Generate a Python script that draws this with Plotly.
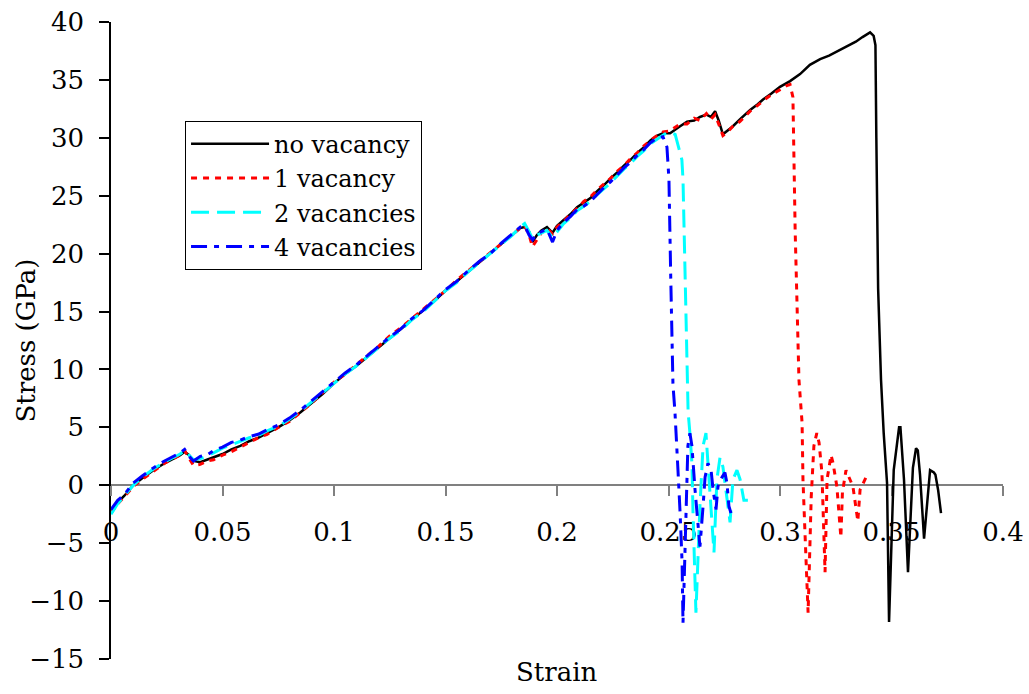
import plotly.graph_objects as go

# ---------------- data ----------------
strain_common = [0.000, 0.003, 0.006, 0.010, 0.014, 0.019, 0.024, 0.028, 0.031, 0.033,
                 0.035, 0.037, 0.040, 0.043, 0.046, 0.050, 0.054, 0.058, 0.062, 0.066,
                 0.070, 0.075, 0.080, 0.085, 0.090, 0.095, 0.100, 0.105, 0.110, 0.115,
                 0.120, 0.125, 0.130, 0.135, 0.140, 0.145, 0.150, 0.155, 0.160, 0.165,
                 0.170, 0.175, 0.180, 0.1835, 0.1855, 0.1875, 0.189, 0.191, 0.193, 0.1955,
                 0.198, 0.200, 0.203, 0.206, 0.209, 0.212, 0.215, 0.218, 0.221, 0.224,
                 0.227, 0.230, 0.233, 0.236, 0.239, 0.242, 0.245]

stress_common_novac = [-2.3, -1.5, -0.9, 0.0, 0.6, 1.3, 1.9, 2.3, 2.6, 2.9,
                       2.6, 2.1, 2.0, 2.2, 2.4, 2.7, 3.1, 3.4, 3.8, 4.1,
                       4.5, 5.0, 5.6, 6.3, 7.1, 7.9, 8.8, 9.6, 10.3, 11.1,
                       11.9, 12.7, 13.5, 14.3, 15.1, 15.9, 16.8, 17.6, 18.4, 19.2,
                       20.0, 20.8, 21.6, 22.2, 22.3, 21.9, 21.0, 21.6, 22.0, 22.3,
                       21.8, 22.4, 22.9, 23.4, 24.0, 24.4, 24.8, 25.4, 25.9, 26.5,
                       27.0, 27.6, 28.1, 28.7, 29.2, 29.8, 30.2]
stress_common_1vac = [-2.4, -1.6, -1.0, -0.1, 0.5, 1.2, 1.9, 2.3, 2.6, 3.0,
                      2.3, 1.7, 1.8, 2.1, 2.2, 2.6, 2.9, 3.3, 3.7, 4.1,
                      4.4, 5.0, 5.5, 6.3, 7.1, 8.0, 8.9, 9.6, 10.4, 11.2,
                      12.0, 12.9, 13.6, 14.4, 15.2, 16.0, 16.8, 17.7, 18.5, 19.3,
                      20.1, 20.9, 21.7, 22.2, 22.4, 21.6, 20.6, 21.2, 21.8, 22.2,
                      21.7, 22.3, 22.8, 23.4, 23.9, 24.5, 24.9, 25.5, 26.0, 26.5,
                      27.1, 27.6, 28.2, 28.7, 29.3, 29.8, 30.2]
stress_common_2vac = [-2.5, -1.6, -0.9, 0.0, 0.7, 1.4, 2.0, 2.4, 2.7, 3.0,
                      2.6, 2.2, 2.3, 2.5, 2.8, 3.2, 3.5, 3.8, 4.1, 4.3,
                      4.7, 5.1, 5.7, 6.4, 7.2, 8.0, 8.8, 9.6, 10.3, 11.1,
                      11.9, 12.7, 13.4, 14.3, 15.0, 15.9, 16.8, 17.5, 18.4, 19.2,
                      20.0, 20.8, 21.6, 22.3, 22.6, 21.9, 21.3, 21.6, 21.8, 22.0,
                      21.4, 21.9, 22.6, 23.1, 23.7, 24.1, 24.5, 25.1, 25.6, 26.1,
                      26.7, 27.3, 27.8, 28.4, 28.9, 29.5, 29.9]
stress_common_4vac = [-2.1, -1.3, -0.8, 0.2, 0.8, 1.5, 2.1, 2.5, 2.8, 3.1,
                      2.5, 2.1, 2.5, 2.6, 3.0, 3.3, 3.7, 3.9, 4.2, 4.4,
                      4.8, 5.2, 5.8, 6.5, 7.3, 8.1, 8.9, 9.7, 10.4, 11.2,
                      12.0, 12.8, 13.5, 14.4, 15.1, 16.0, 16.9, 17.6, 18.5, 19.3,
                      20.0, 20.9, 21.7, 22.3, 22.4, 21.6, 21.2, 21.7, 21.9, 22.1,
                      21.0, 22.0, 22.7, 23.2, 23.8, 24.1, 24.5, 25.1, 25.7, 26.2,
                      26.8, 27.4, 27.9, 28.5, 29.0, 29.6, 30.0]

strain_tail_novac = [0.2475, 0.2507, 0.2552, 0.2583, 0.2615, 0.2641, 0.2670, 0.2690, 0.2709,
                     0.2725, 0.2744, 0.2765, 0.2789, 0.2820, 0.2866, 0.2900, 0.2924, 0.2960,
                     0.3000, 0.3045, 0.3090, 0.3134, 0.3180, 0.3220, 0.3260, 0.3300, 0.3340,
                     0.3370, 0.3404, 0.3420, 0.3428, 0.3432, 0.3440, 0.3453, 0.3465, 0.3480,
                     0.3489, 0.3510, 0.3534, 0.3540, 0.3556, 0.3574, 0.3596, 0.3610, 0.3618,
                     0.3628, 0.3646, 0.3673, 0.3690, 0.3697, 0.3709, 0.3722]
stress_tail_novac = [30.4, 30.4, 31.0, 31.4, 31.5, 31.8, 32.0, 31.8, 32.3,
                     31.5, 30.3, 30.6, 31.0, 31.6, 32.4, 32.9, 33.3, 33.8,
                     34.4, 34.9, 35.5, 36.3, 36.8, 37.1, 37.5, 37.9, 38.3,
                     38.7, 39.1, 38.8, 38.0, 30.0, 17.0, 9.1, 4.5, 0.2,
                     -11.8, 1.3, 5.0, 5.0, 0.5, -7.5, 1.5, 3.2, 3.0,
                     0.9, -4.6, 1.3, 1.1, 0.9, -0.4, -2.4]

strain_tail_1vac = [0.2475, 0.2507, 0.2552, 0.2583, 0.2615, 0.2641, 0.2670, 0.2690, 0.2709,
                    0.2725, 0.2744, 0.2765, 0.2789, 0.2820, 0.2866, 0.2900, 0.2924, 0.2960,
                    0.3000, 0.3030, 0.3045, 0.3058, 0.3068, 0.3078, 0.3085, 0.3099, 0.3103,
                    0.3112, 0.3126, 0.3140, 0.3152, 0.3165, 0.3175, 0.3188, 0.3202, 0.3211,
                    0.3229, 0.3238, 0.3255, 0.3273, 0.3280, 0.3296, 0.3314, 0.3327, 0.3349,
                    0.3359, 0.3386]
stress_tail_1vac = [30.5, 30.6, 31.2, 31.2, 31.7, 31.5, 32.1, 31.6, 32.0,
                    31.2, 30.2, 30.5, 31.0, 31.4, 32.3, 32.8, 33.2, 33.7,
                    34.2, 34.5, 34.6, 33.5, 22.0, 14.0, 9.1, 5.4, 0.5,
                    -4.1, -11.0, -1.0, 3.4, 4.5, 3.7, 1.1, -7.5, 0.5,
                    2.6, 1.9, -0.1, -4.5, -0.6, 1.3, 0.5, -0.1, -3.1,
                    -0.4, 0.7]

strain_tail_2vac = [0.2475, 0.2498, 0.2530, 0.2560, 0.2565, 0.2575, 0.2583, 0.2588, 0.2596,
                    0.2605, 0.2610, 0.2619, 0.2623, 0.2632, 0.2641, 0.2655, 0.2668, 0.2677,
                    0.2695, 0.2704, 0.2717, 0.2731, 0.2744, 0.2762, 0.2776, 0.2789, 0.2807,
                    0.2821, 0.2838, 0.2856]
stress_tail_2vac = [30.2, 30.5, 30.3, 28.1, 26.4, 17.0, 9.1, 6.3, 4.5,
                    1.9, -2.4, -8.2, -11.0, -6.4, -1.8, 3.4, 4.5, 1.9,
                    -3.8, -5.8, 0.5, 2.4, 1.6, -1.0, -3.2, 0.5, 1.3,
                    0.5, -1.3, -1.3]

strain_tail_4vac = [0.2475, 0.2493, 0.2498, 0.2502, 0.2510, 0.2520, 0.2529, 0.2538, 0.2543,
                    0.2552, 0.2561, 0.2565, 0.2574, 0.2583, 0.2587, 0.2596, 0.2605, 0.2619,
                    0.2632, 0.2641, 0.2655, 0.2664, 0.2677, 0.2691, 0.2700, 0.2713, 0.2722,
                    0.2740, 0.2753, 0.2762, 0.2771, 0.2780]
stress_tail_4vac = [30.1, 29.2, 27.5, 26.4, 18.0, 8.7, 6.3, 3.4, 1.1,
                    -2.4, -6.7, -11.9, -5.8, 0.5, 3.4, 4.5, 3.4, -0.4,
                    -3.2, -5.3, -1.8, 0.7, 1.9, 1.3, -0.4, -2.1, -0.1,
                    0.7, 1.1, 0.2, -1.8, -2.4]

series_names = ["no vacancy", "1 vacancy", "2 vacancies", "4 vacancies"]
x_tick_vals = [0, 0.05, 0.1, 0.15, 0.2, 0.25, 0.3, 0.35, 0.4]
x_tick_text = ["0", "0.05", "0.1", "0.15", "0.2", "0.25", "0.3", "0.35", "0.4"]
y_tick_vals = [-15, -10, -5, 0, 5, 10, 15, 20, 25, 30, 35, 40]

# ---------------- figure ----------------
FONT = "DejaVu Serif"

series = [
    (series_names[0], strain_common + strain_tail_novac, stress_common_novac + stress_tail_novac,
     dict(color="#000000", width=2.5, dash="solid")),
    (series_names[1], strain_common + strain_tail_1vac, stress_common_1vac + stress_tail_1vac,
     dict(color="#FF0000", width=3, dash="6px,6px")),
    (series_names[2], strain_common + strain_tail_2vac, stress_common_2vac + stress_tail_2vac,
     dict(color="#00FFFF", width=3, dash="18px,8px")),
    (series_names[3], strain_common + strain_tail_4vac, stress_common_4vac + stress_tail_4vac,
     dict(color="#0000FF", width=3, dash="16px,7px,5px,7px")),
]

fig = go.Figure()
for name, xs, ys, line in series:
    fig.add_trace(go.Scatter(x=xs, y=ys, mode="lines", name=name, line=line))

fig.update_layout(
    width=1029, height=694,
    margin=dict(l=111, r=26, t=22, b=35, pad=0),
    paper_bgcolor="white", plot_bgcolor="white",
    font=dict(family=FONT, size=26, color="black"),
    showlegend=True,
    legend=dict(x=0.083, y=0.845, xanchor="left", yanchor="top",
                bgcolor="white", bordercolor="black", borderwidth=1,
                font=dict(family=FONT, size=24, color="black"),
                itemwidth=78, tracegroupgap=0),
    xaxis=dict(range=[0, 0.4], anchor="free", position=15 / 55,
               tickmode="array", tickvals=x_tick_vals, ticktext=x_tick_text,
               showline=True, linecolor="#808080", linewidth=1.5,
               ticks="outside", ticklen=10, tickwidth=1.5, tickcolor="#808080",
               ticklabelstandoff=14,
               showgrid=False, zeroline=False, layer="below traces",
               tickfont=dict(family=FONT, size=26, color="black"), automargin=False),
    yaxis=dict(range=[-15, 40], tickmode="array", tickvals=y_tick_vals,
               showline=True, linecolor="black", linewidth=1.5,
               ticks="outside", ticklen=10, tickwidth=1.5, tickcolor="black",
               ticklabelstandoff=10,
               showgrid=False, zeroline=False, layer="below traces",
               tickfont=dict(family=FONT, size=26, color="black"), automargin=False),
    annotations=[
        dict(text="Strain", xref="paper", yref="paper", x=0.5, y=0, yanchor="top",
             xanchor="center", yshift=4, showarrow=False,
             font=dict(family=FONT, size=26, color="black")),
        dict(text="Stress (GPa)", xref="paper", yref="paper", x=0, y=0.5,
             xanchor="center", yanchor="middle", xshift=-86, textangle=-90,
             showarrow=False, font=dict(family=FONT, size=26, color="black")),
    ],
)

fig.write_html("out.html")
